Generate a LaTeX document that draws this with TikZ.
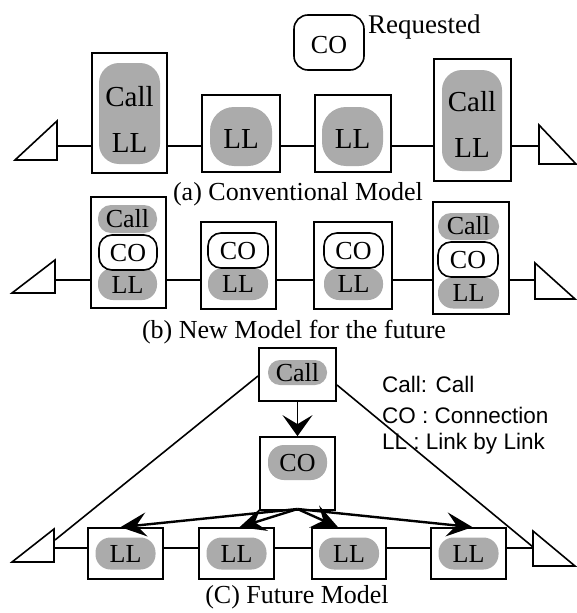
\documentclass[tikz,border=0pt]{standalone}
\usepackage{fontspec}
\setmainfont{Liberation Serif}
\newfontfamily\legendfont{Liberation Sans}
\usetikzlibrary{arrows.meta,calc}
\tikzset{
  box/.style={draw,line width=1.7pt,fill=white,inner sep=0pt},
  shade/.style={fill=black!33,inner sep=0pt},
  cobox/.style={draw,line width=1.6pt,fill=white,inner sep=0pt,rounded corners=13pt},
  conn/.style={line width=1.6pt},
  tri/.style={line width=1.6pt},
  bigarrow/.style={line width=2.4pt,-{Stealth[length=26pt,width=24pt,inset=10pt]}},
  downarrow/.style={line width=1.8pt,-{Stealth[length=21pt,width=30pt,inset=9pt]}},
  lbl/.style={inner sep=0pt,font=\fontsize{26}{28}\selectfont},
  biglbl/.style={inner sep=0pt,font=\fontsize{29}{32}\selectfont},
  captext/.style={inner sep=0pt,font=\fontsize{26}{30}\selectfont},
  leg/.style={inner sep=0pt,anchor=west,font=\legendfont\fontsize{22.5}{24}\selectfont}
}
\begin{document}
\begin{tikzpicture}[x=1pt,y=-1pt]
\useasboundingbox (0,0) rectangle (577,613);

% ---------------- (a) ----------------
\node[cobox,minimum width=70pt,minimum height=55pt,rounded corners=14pt] (rq) at (329,42.5) {};
\node[lbl] (rqt) at (329,45) {CO};
\node[lbl,anchor=west,font=\fontsize{27}{30}\selectfont] (rqlab) at (368,27) {Requested};

\node[box,minimum width=75pt,minimum height=120pt] (a1) at (129.5,113) {};
\node[shade,minimum width=61pt,minimum height=101pt,rounded corners=20pt] (a1s) at (129.5,113.5) {};
\node[biglbl] (a1c) at (129.5,97) {Call};
\node[biglbl] (a1l) at (129.5,143) {LL};

\node[box,minimum width=78pt,minimum height=77pt] (a2) at (241,133.5) {};
\node[shade,minimum width=62pt,minimum height=59pt,rounded corners=24pt] (a2s) at (241,136.5) {};
\node[biglbl] (a2l) at (241,139) {LL};

\node[box,minimum width=76pt,minimum height=77pt] (a3) at (353,133.5) {};
\node[shade,minimum width=61pt,minimum height=59pt,rounded corners=24pt] (a3s) at (352.5,136.5) {};
\node[biglbl] (a3l) at (352.5,139) {LL};

\node[box,minimum width=77pt,minimum height=122pt] (a4) at (472.5,120) {};
\node[shade,minimum width=60pt,minimum height=101pt,rounded corners=20pt] (a4s) at (472,120.5) {};
\node[biglbl] (a4c) at (472,102) {Call};
\node[biglbl] (a4l) at (472,148) {LL};

\draw[tri] (15,160) -- (57,121) -- (57,160) -- cycle;
\draw[tri] (539,125) -- (576,164) -- (539,164) -- cycle;
\coordinate (tal) at (57,146);
\coordinate (tar) at (539,146);
\draw[conn] (tal) -- (tal -| a1.west);
\draw[conn] (a1.east |- tal) -- (a2.west |- tal);
\draw[conn] (a2.east |- tal) -- (a3.west |- tal);
\draw[conn] (a3.east |- tal) -- (a4.west |- tal);
\draw[conn] (a4.east |- tal) -- (tar);

\node[captext] (capa) at (298,194) {(a) Conventional Model};

% ---------------- (b) ----------------
\node[box,minimum width=75pt,minimum height=111pt] (b1) at (128.5,252.5) {};
\node[shade,minimum width=59pt,minimum height=28pt,rounded corners=13pt] (b1c) at (127.5,219) {};
\node[shade,minimum width=59pt,minimum height=32pt,rounded corners=15pt] (b1l) at (127.5,284) {};
\node[cobox,minimum width=58pt,minimum height=35pt] (b1o) at (128,252.5) {};
\node[lbl] (b1ct) at (127.5,219) {Call};
\node[lbl] (b1ot) at (128,253) {CO};
\node[lbl] (b1lt) at (127.5,285) {LL};

\node[box,minimum width=75pt,minimum height=87pt] (b2) at (238.5,265.5) {};
\node[shade,minimum width=60pt,minimum height=32pt,rounded corners=15pt] (b2l) at (238,284) {};
\node[cobox,minimum width=60pt,minimum height=35pt] (b2o) at (238,250.5) {};
\node[lbl] (b2ot) at (238,251) {CO};
\node[lbl] (b2lt) at (238,284) {LL};

\node[box,minimum width=78pt,minimum height=87pt] (b3) at (353,265.5) {};
\node[shade,minimum width=59pt,minimum height=32pt,rounded corners=15pt] (b3l) at (353.5,284) {};
\node[cobox,minimum width=59pt,minimum height=35pt] (b3o) at (353.5,250.5) {};
\node[lbl] (b3ot) at (353.5,251) {CO};
\node[lbl] (b3lt) at (353.5,284) {LL};

\node[box,minimum width=76pt,minimum height=112pt] (b4) at (471,258) {};
\node[shade,minimum width=61pt,minimum height=27pt,rounded corners=13pt] (b4c) at (468.5,226.5) {};
\node[shade,minimum width=61pt,minimum height=31pt,rounded corners=15pt] (b4l) at (468.5,293) {};
\node[cobox,minimum width=60pt,minimum height=35pt] (b4o) at (468,259.5) {};
\node[lbl] (b4ct) at (468.5,226) {Call};
\node[lbl] (b4ot) at (468,260) {CO};
\node[lbl] (b4lt) at (468.5,293) {LL};

\draw[tri] (12,293) -- (55,260) -- (55,293) -- cycle;
\draw[tri] (535,263) -- (575,299) -- (535,299) -- cycle;
\coordinate (tbl) at (55,280);
\coordinate (tbr) at (535,280);
\draw[conn] (tbl) -- (tbl -| b1.west);
\draw[conn] (b1.east |- tbl) -- (b2.west |- tbl);
\draw[conn] (b2.east |- tbl) -- (b3.west |- tbl);
\draw[conn] (b3.east |- tbl) -- (b4.west |- tbl);
\draw[conn] (b4.east |- tbl) -- (tbr);

\node[captext] (capb) at (294,332) {(b) New Model for the future};

% ---------------- (c) ----------------
\coordinate (dl) at (55,540);
\coordinate (dr) at (533,547);
\draw[conn] (258,376) -- (dl);

\node[box,minimum width=77pt,minimum height=53pt] (cc) at (297.5,374.5) {};
\node[shade,minimum width=59pt,minimum height=25pt,rounded corners=12pt] (ccs) at (297.5,372.5) {};
\node[lbl] (cct) at (297.5,373) {Call};

\node[box,minimum width=75pt,minimum height=73pt] (co) at (297.5,473.5) {};
\node[shade,minimum width=59pt,minimum height=35pt,rounded corners=16pt] (cos) at (297.5,462.5) {};
\node[lbl] (cot) at (297.5,463) {CO};

\draw[downarrow] (cc.south) -- (co.north);

\node[box,minimum width=75pt,minimum height=51pt] (c1) at (125.5,553.5) {};
\node[box,minimum width=75pt,minimum height=51pt] (c2) at (236.5,553.5) {};
\node[box,minimum width=74pt,minimum height=51pt] (c3) at (349,553.5) {};
\node[box,minimum width=75pt,minimum height=51pt] (c4) at (468.5,553.5) {};
\foreach \n in {c1,c2,c3,c4}{
  \node[shade,minimum width=60pt,minimum height=32pt,rounded corners=15pt] (\n s) at (\n) {};
  \node[lbl] (\n t) at (\n) {LL};
}

\draw[tri] (12,562) -- (54,529) -- (54,562) -- cycle;
\draw[tri] (533,531) -- (575,566) -- (533,566) -- cycle;
\coordinate (tcl) at (54,548);
\coordinate (tcr) at (533,548);
\draw[conn] (tcl) -- (tcl -| c1.west);
\draw[conn] (c1.east |- tcl) -- (c2.west |- tcl);
\draw[conn] (c2.east |- tcl) -- (c3.west |- tcl);
\draw[conn] (c3.east |- tcl) -- (c4.west |- tcl);
\draw[conn] (c4.east |- tcl) -- (tcr);

\coordinate (cob) at (297.5,509);
\draw[bigarrow] (cob) -- ($(c1.north)+(-5,0)$);
\draw[bigarrow] (cob) -- ($(c2.north)+(3,0)$);
\draw[bigarrow] (cob) -- ($(c3.north)+(-11,0)$);
\draw[bigarrow] (cob) -- ($(c4.north)+(4,0)$);

\node[captext] (capc) at (297,597) {(C) Future Model};

\node[leg] (lg1) at (382,384) {Call: Call};
\node[leg] (lg2) at (382,415) {CO : Connection};
\node[leg] (lg3) at (382,444) {LL : Link by Link};
\draw[conn] (337,385) -- (dr);
\end{tikzpicture}
\end{document}
